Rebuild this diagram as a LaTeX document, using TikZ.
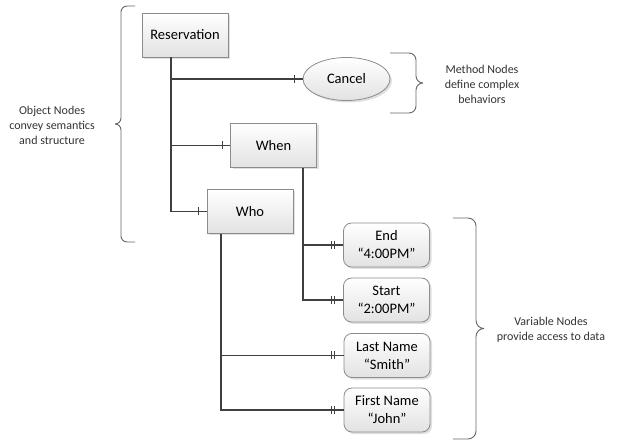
\documentclass[tikz,border=0pt]{standalone}
\usepackage{fontspec}
\setmainfont{Carlito}
\usetikzlibrary{shapes.geometric, shadows}
\definecolor{myLine}{HTML}{404040}
\definecolor{myEdge}{HTML}{8C8C8C}
\definecolor{myFill}{HTML}{E2E2E2}
\definecolor{myText}{HTML}{333333}
\definecolor{myBrace}{HTML}{666666}

% ER style end marks: one bar / two bars before the node
\pgfdeclarearrow{
  name = oneBar,
  setup code = {
    \pgfarrowssettipend{0pt}
    \pgfarrowssetlineend{0pt}
    \pgfarrowssetbackend{-9pt}
    \pgfarrowssetvisualbackend{-9pt}
    \pgfarrowshullpoint{0pt}{4pt}
    \pgfarrowshullpoint{0pt}{-4pt}
    \pgfarrowshullpoint{-9pt}{4pt}
    \pgfarrowshullpoint{-9pt}{-4pt}
  },
  drawing code = {
    \pgfpathmoveto{\pgfqpoint{-8pt}{-4pt}}
    \pgfpathlineto{\pgfqpoint{-8pt}{4pt}}
    \pgfusepathqstroke
  }
}
\pgfdeclarearrow{
  name = twoBar,
  setup code = {
    \pgfarrowssettipend{0pt}
    \pgfarrowssetlineend{0pt}
    \pgfarrowssetbackend{-13pt}
    \pgfarrowssetvisualbackend{-13pt}
    \pgfarrowshullpoint{0pt}{4pt}
    \pgfarrowshullpoint{0pt}{-4pt}
    \pgfarrowshullpoint{-13pt}{4pt}
    \pgfarrowshullpoint{-13pt}{-4pt}
  },
  drawing code = {
    \pgfpathmoveto{\pgfqpoint{-9pt}{-4pt}}
    \pgfpathlineto{\pgfqpoint{-9pt}{4pt}}
    \pgfpathmoveto{\pgfqpoint{-12pt}{-4pt}}
    \pgfpathlineto{\pgfqpoint{-12pt}{4pt}}
    \pgfusepathqstroke
  }
}

\begin{document}
\begin{tikzpicture}[x=1pt, y=-1pt,
  nodebase/.style={draw=myEdge, line width=0.8pt, top color=white, bottom color=myFill,
                   drop shadow={shadow xshift=2pt, shadow yshift=-2pt, opacity=0.25},
                   minimum width=86pt, minimum height=44pt, inner sep=2pt,
                   font=\fontsize{14.5}{18}\selectfont, align=center},
  objbox/.style={nodebase},
  methodnode/.style={nodebase, ellipse, minimum width=87pt, minimum height=43pt},
  varbox/.style={nodebase, rounded corners=8pt},
  link/.style={draw=myLine, line width=1.2pt},
  note/.style={font=\fontsize{12}{15}\selectfont, text=myText, align=center},
  bracket/.style={draw=myBrace, line width=0.9pt}
]
\useasboundingbox (0,0) rectangle (632,446);

% object and method nodes
\node[objbox] (res) at (185,35) {Reservation};
\node[methodnode] (cancel) at (346.5,79) {Cancel};
\node[objbox] (when) at (273.5,145.5) {When};
\node[objbox] (who) at (250,211.5) {Who};

% variable nodes
\node[varbox] (end) at (386.5,245) {End\\“4:00PM”};
\node[varbox] (start) at (386.5,300) {Start\\“2:00PM”};
\node[varbox] (last) at (387,355.5) {Last Name\\“Smith”};
\node[varbox] (first) at (387,410) {First Name\\“John”};

% connectors
\foreach \target in {cancel, when, who}
  \draw[link, -oneBar] ([xshift=-14pt]res.south) |- (\target.west);
\foreach \target in {end, start}
  \draw[link, -twoBar] ([xshift=29.5pt]when.south) |- (\target.west);
\foreach \target in {last, first}
  \draw[link, -twoBar] ([xshift=-29pt]who.south) |- (\target.west);

% braces and notes
\draw[bracket, rounded corners=6pt] (135,6) -| (121,124) -- (115,124)
  (115,124) -- (121,124) |- (135,242);
\node[note] (objnote) at (52,125) {Object Nodes\\convey semantics\\and structure};

\draw[bracket, rounded corners=7pt] (390,53) -| (416,83) -- (423,83)
  (423,83) -- (416,83) |- (390,113);
\node[note] (methnote) at (482,84) {Method Nodes\\define complex\\behaviors};

\draw[bracket, rounded corners=8pt] (453,218) -| (476,328.5) -- (484,328.5)
  (484,328.5) -- (476,328.5) |- (453,439);
\node[note] (varnote) at (551,330) {Variable Nodes\\provide access to data};
\end{tikzpicture}
\end{document}
